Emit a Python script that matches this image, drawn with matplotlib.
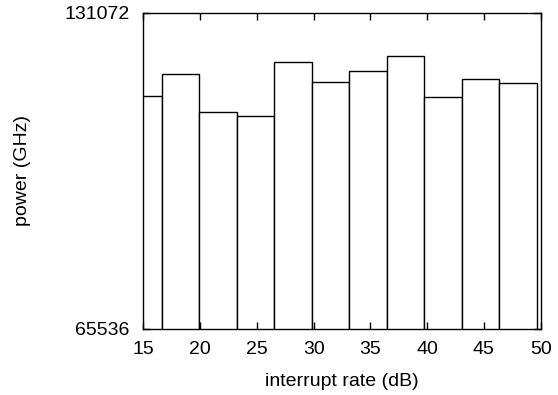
import numpy as np
import matplotlib; matplotlib.use('Agg')
import matplotlib.pyplot as plt
import matplotlib.ticker as mticker

plt.rcParams.update({'font.family': ['Liberation Sans', 'DejaVu Sans'], 'font.size': 14})

# data
rate = [15.0, 18.3, 21.6, 24.9, 28.2, 31.5, 34.8, 38.1, 41.4, 44.7, 48.0]
power = [109180, 114570, 105500, 104570, 117560, 112530, 115290, 119210, 108990, 113300, 112270]
xticks = [15, 20, 25, 30, 35, 40, 45, 50]
yticks = [65536, 131072]

fig = plt.figure(figsize=(5.58, 3.95), dpi=100)
ax = fig.add_axes([0.2568, 0.1678, 0.7122, 0.80])

ax.bar(rate, power, width=3.3, bottom=0, color='white', edgecolor='black', linewidth=1.0)

ax.set_yscale('log', base=2)
ax.set_xlim(15, 50)
ax.set_ylim(65536, 131072)
ax.set_xticks(xticks)
ax.set_yticks(yticks)
ax.yaxis.set_major_formatter(mticker.FuncFormatter(lambda v, p: f'{int(round(v))}'))
ax.yaxis.set_minor_locator(mticker.NullLocator())
ax.tick_params(direction='in', top=True, right=True, length=5, width=1)
ax.tick_params(axis='x', pad=9)
ax.tick_params(axis='y', pad=10)
for s in ax.spines.values():
    s.set_linewidth(1.0)

ax.set_xlabel('interrupt rate (dB)', labelpad=11)
ax.set_ylabel('power (GHz)', labelpad=24)

fig.savefig('out.png', dpi=100)
